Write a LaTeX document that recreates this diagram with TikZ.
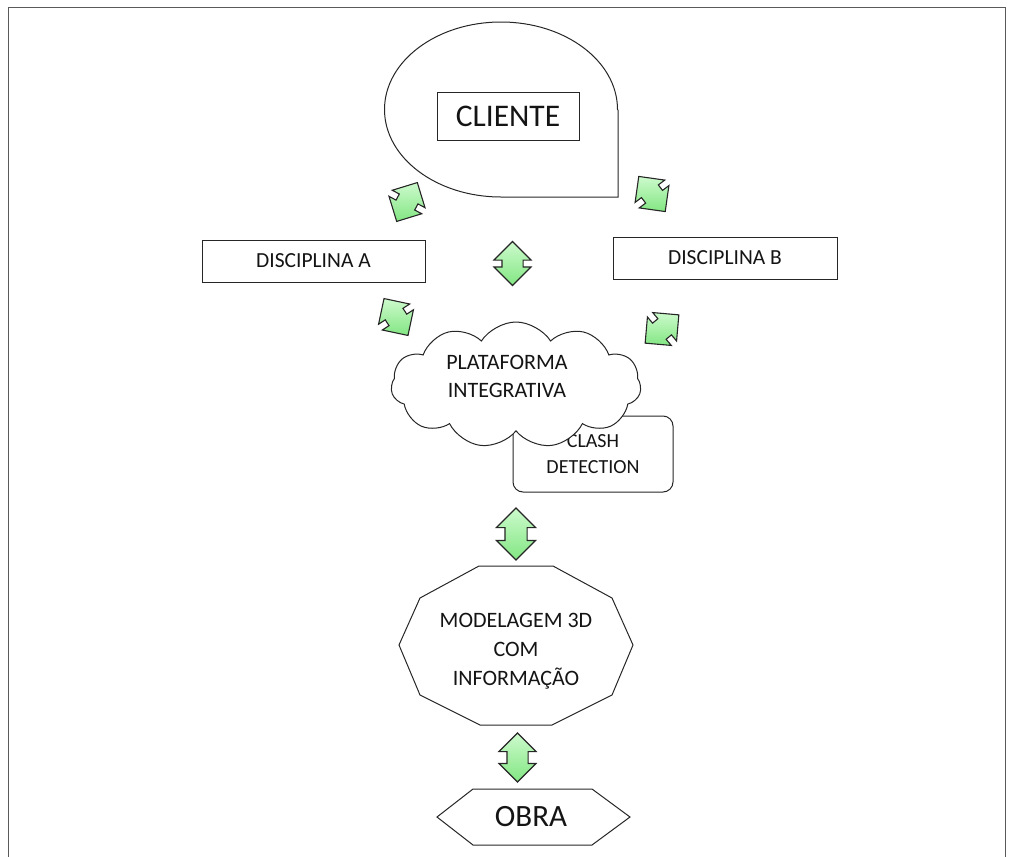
\documentclass[tikz,border=0pt]{standalone}
\usepackage{fontspec}
\setmainfont{Carlito}
\usetikzlibrary{shapes.arrows,shapes.symbols,shapes.geometric}
\definecolor{arrowtop}{RGB}{205,250,205}
\definecolor{arrowbot}{RGB}{130,230,130}
\definecolor{txt}{RGB}{20,20,20}
\definecolor{framec}{RGB}{90,90,90}
\tikzset{
  outline/.style={draw=black!85, line width=1pt},
  box/.style={outline, rectangle, inner sep=0pt, text=txt, font=\fontsize{21.5}{24}\selectfont},
  dblarrow/.style={double arrow, draw=black!85, line width=1.1pt, top color=arrowtop, bottom color=arrowbot,
    inner xsep=0pt, inner ysep=10pt, double arrow head extend=8pt, minimum height=44pt},
  lbl/.style={text=txt, align=center, inner sep=0pt},
}
\begin{document}
\begin{tikzpicture}[x=1pt,y=-1pt]
\useasboundingbox (0,0) rectangle (1013,857);
% frame
\draw[framec, line width=1pt] (8,857) -- (8,7) -- (1005,7) -- (1005,857);

% CLIENTE teardrop
\draw[outline] (618,110) -- (618,197) -- (501,197) arc[start angle=90, end angle=360, x radius=116.5, y radius=87.5] -- cycle;
\node[box, minimum width=142pt, minimum height=48pt, font=\fontsize{31.5}{34}\selectfont] (cliente) at (508,116) {CLIENTE};

% disciplines
\node[box, minimum width=223pt, minimum height=42pt] (discA) at (313.5,261) {DISCIPLINA A};
\node[box, minimum width=224pt, minimum height=42pt] (discB) at (725,258) {DISCIPLINA B};

% clash detection box (behind cloud)
\node[box, rounded corners=10pt, minimum width=160pt, minimum height=76pt, align=center,
      font=\fontsize{20}{26}\selectfont] (clash) at (593,454) {CLASH\\DETECTION};

% cloud
\node[cloud, cloud puffs=11, cloud puff arc=115, aspect=2, outline, fill=white,
      minimum width=250pt, minimum height=126pt, inner sep=0pt] (plat) at (516,385) {};
\node[lbl, font=\fontsize{22}{28}\selectfont] (platt) at (507,376) {PLATAFORMA\\INTEGRATIVA};

% modelagem decagon
\node[lbl, font=\fontsize{22}{29}\selectfont] (modelo) at (516,651) {MODELAGEM 3D\\COM\\INFORMAÇÃO};
\draw[outline] (633,645) -- (612,598) -- (553,566) -- (479,566) -- (420,598) -- (399,645)
   -- (420,695) -- (480,725) -- (552,725) -- (612,695) -- cycle;

% obra hexagon
\draw[outline] (437,817) -- (473,789) -- (592,789) -- (630,817) -- (592,845) -- (473,845) -- cycle;
\node[lbl, font=\fontsize{31}{34}\selectfont] (obra) at (531,817) {OBRA};

% green double arrows
\node[dblarrow, rotate=62] (a1) at (407,202) {};
\node[dblarrow, rotate=127] (a2) at (652,194) {};
\node[dblarrow, rotate=90] (a3) at (512.5,263.5) {};
\node[dblarrow, rotate=123] (a4) at (396,317) {};
\node[dblarrow, rotate=40] (a5) at (662,329) {};
\node[dblarrow, rotate=90, minimum height=52pt, inner ysep=10.5pt, double arrow head extend=8.5pt] (a6) at (516,534) {};
\node[dblarrow, rotate=90, minimum height=49pt] (a7) at (517.5,757.5) {};
\end{tikzpicture}
\end{document}
